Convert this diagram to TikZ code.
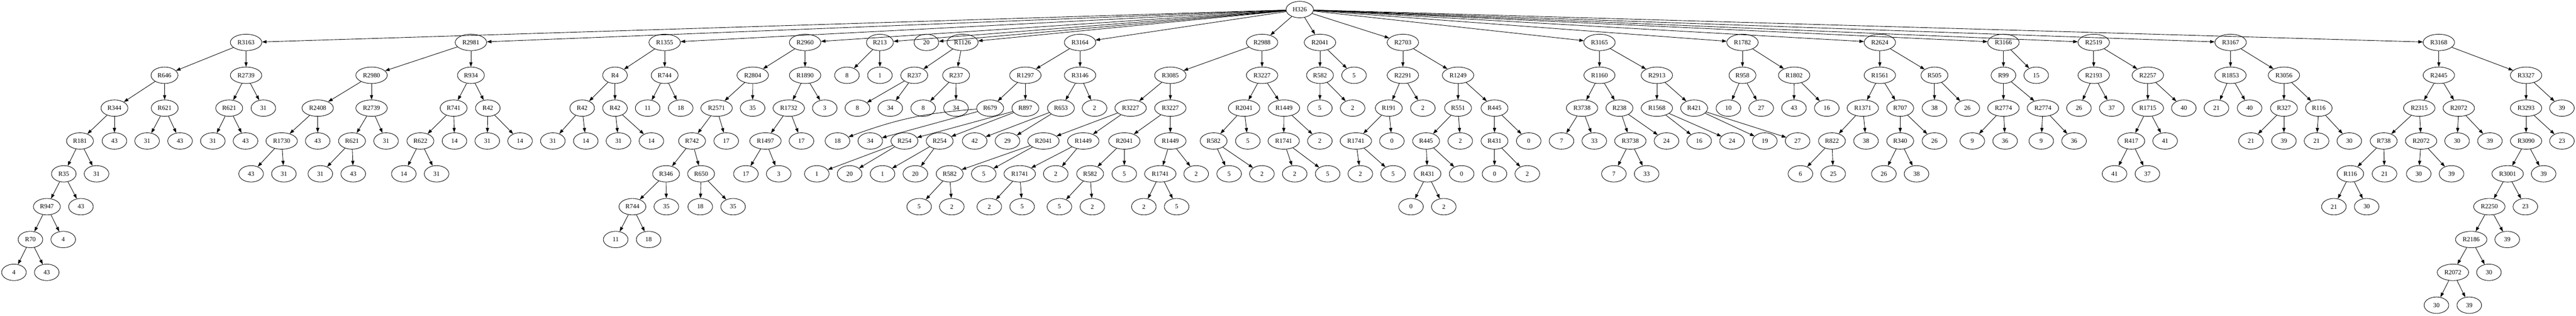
\documentclass[tikz,border=0pt]{standalone}
\usepackage{fontspec}
\setmainfont{Liberation Serif}
\usetikzlibrary{shapes.geometric,arrows.meta}
\newcommand\TN[5]{\node[nd] (#1) at (#3,#4) {#5}; \draw[ar] (#2) -- (#1);}
\begin{document}
\begin{tikzpicture}[x=0.75pt,y=-72pt,
  nd/.style={ellipse,draw,line width=1pt,minimum width=54pt,minimum height=36pt,
    inner xsep=5.7pt,inner ysep=2pt,font=\fontsize{14}{16}\selectfont},
  ar/.style={line width=1pt,-{Triangle[length=10pt,width=7pt]}}]
\useasboundingbox (0,-0.291667) rectangle (7533,9.322917);
\node[nd] (r) at (3800.8,0) {H326};
% level 1
\TN{a}{r}{719.6}{1}{R3163}
\TN{b}{r}{1377.1}{1}{R2981}
\TN{c}{r}{1943.7}{1}{R1355}
\TN{d}{r}{2354.3}{1}{R2960}
\TN{e}{r}{2573.1}{1}{R213}
\TN{f}{r}{2709}{1}{20}
\TN{g}{r}{2814.7}{1}{R1126}
\TN{h}{r}{3158.4}{1}{R3164}
\TN{i}{r}{3690.6}{1}{R2988}
\TN{j}{r}{3860}{1}{R2041}
\TN{k}{r}{4102.4}{1}{R2703}
\TN{l}{r}{4677.3}{1}{R3165}
\TN{m}{r}{5095.5}{1}{R1782}
\TN{n}{r}{5497.1}{1}{R2624}
\TN{o}{r}{5858.6}{1}{R3166}
\TN{p}{r}{6122.6}{1}{R2519}
\TN{q}{r}{6522.9}{1}{R3167}
\TN{s}{r}{7131.8}{1}{R3168}
% A
\TN{a1}{a}{481}{2}{R646}
\TN{a11}{a1}{334.7}{3}{R344}
\TN{a111}{a11}{233.9}{4}{R181}
\TN{a1111}{a111}{186.5}{5}{R35}
\TN{a11111}{a1111}{137.1}{6}{R947}
\TN{a111111}{a11111}{89}{7}{R70}
\TN{a1111111}{a111111}{40.8}{8}{4}
\TN{a1111112}{a111111}{136.7}{8}{43}
\TN{a111112}{a11111}{184.9}{7}{4}
\TN{a11112}{a1111}{236.7}{6}{43}
\TN{a1112}{a111}{282.4}{5}{31}
\TN{a112}{a11}{334.7}{4}{43}
\TN{a12}{a1}{481.6}{3}{R621}
\TN{a121}{a12}{430.2}{4}{31}
\TN{a122}{a12}{526.5}{4}{43}
\TN{a2}{a}{719.6}{2}{R2739}
\TN{a21}{a2}{670.2}{3}{R621}
\TN{a211}{a21}{622.4}{4}{31}
\TN{a212}{a21}{718}{4}{43}
\TN{a22}{a2}{770.2}{3}{31}
% B
\TN{b1}{b}{1086.5}{2}{R2980}
\TN{b11}{b1}{929}{3}{R2408}
\TN{b111}{b11}{823.7}{4}{R1730}
\TN{b1111}{b111}{734.3}{5}{43}
\TN{b1112}{b111}{830.2}{5}{31}
\TN{b112}{b11}{929}{4}{43}
\TN{b12}{b1}{1086.5}{3}{R2739}
\TN{b121}{b12}{1029.4}{4}{R621}
\TN{b1211}{b121}{936.7}{5}{31}
\TN{b1212}{b121}{1033}{5}{43}
\TN{b122}{b12}{1129}{4}{31}
\TN{b2}{b}{1377.1}{2}{R934}
\TN{b21}{b2}{1326.5}{3}{R741}
\TN{b211}{b21}{1229.4}{4}{R622}
\TN{b2111}{b211}{1180.8}{5}{14}
\TN{b2112}{b211}{1276.7}{5}{31}
\TN{b212}{b21}{1329}{4}{14}
\TN{b22}{b2}{1426.5}{3}{R42}
\TN{b221}{b22}{1424.9}{4}{31}
\TN{b222}{b22}{1520.8}{4}{14}
% C
\TN{c1}{c}{1798.4}{2}{R4}
\TN{c11}{c1}{1702.4}{3}{R42}
\TN{c111}{c11}{1616.7}{4}{31}
\TN{c112}{c11}{1713}{4}{14}
\TN{c12}{c1}{1798.4}{3}{R42}
\TN{c121}{c12}{1808.6}{4}{31}
\TN{c122}{c12}{1904.9}{4}{14}
\TN{c2}{c}{1943.7}{2}{R744}
\TN{c21}{c2}{1893.9}{3}{11}
\TN{c22}{c2}{1990.6}{3}{18}
% D
\TN{d1}{d}{2201.2}{2}{R2804}
\TN{d11}{d1}{2095.5}{3}{R2571}
\TN{d111}{d11}{2023.7}{4}{R742}
\TN{d1111}{d111}{1947.8}{5}{R346}
\TN{d11111}{d1111}{1849.4}{6}{R744}
\TN{d111111}{d11111}{1800.4}{7}{11}
\TN{d111112}{d11111}{1896.7}{7}{18}
\TN{d11112}{d1111}{1948.6}{6}{35}
\TN{d1112}{d111}{2050.2}{5}{R650}
\TN{d11121}{d1112}{2047.8}{6}{18}
\TN{d11122}{d1112}{2143.7}{6}{35}
\TN{d112}{d11}{2123.7}{4}{17}
\TN{d12}{d1}{2200.8}{3}{35}
\TN{d2}{d}{2354.3}{2}{R1890}
\TN{d21}{d2}{2306.5}{3}{R1732}
\TN{d211}{d21}{2238.4}{4}{R1497}
\TN{d2111}{d211}{2181.2}{5}{17}
\TN{d2112}{d211}{2277.1}{5}{3}
\TN{d212}{d21}{2343.7}{4}{17}
\TN{d22}{d2}{2411.8}{3}{3}
% E, G
\TN{e1}{e}{2476.7}{2}{8}
\TN{e2}{e}{2573.1}{2}{1}
\TN{g1}{g}{2673.5}{2}{R237}
\TN{g11}{g1}{2507.3}{3}{8}
\TN{g12}{g1}{2603.3}{3}{34}
\TN{g2}{g}{2795.9}{2}{R237}
\TN{g21}{g2}{2699.6}{3}{8}
\TN{g22}{g2}{2795.5}{3}{34}
% H
\TN{h1}{h}{2998.4}{2}{R1297}
\TN{h11}{h1}{2895.5}{3}{R679}
\node[nd] (h111) at (2449,4) {18};
\draw[ar] (h11) to[bend right=8] (h111);
\TN{h112}{h11}{2544.9}{4}{34}
\TN{h12}{h1}{2998.4}{3}{R897}
\TN{h121}{h12}{2644.9}{4}{R254}
\TN{h1211}{h121}{2388.6}{5}{1}
\TN{h1212}{h121}{2484.5}{5}{20}
\TN{h122}{h12}{2747.8}{4}{R254}
\TN{h1221}{h122}{2580.8}{5}{1}
\TN{h1222}{h122}{2676.7}{5}{20}
\TN{h2}{h}{3158.4}{2}{R3146}
\TN{h21}{h2}{3102.4}{3}{R653}
\TN{h211}{h21}{2850.2}{4}{42}
\TN{h212}{h21}{2946.1}{4}{29}
\TN{h22}{h2}{3200.8}{3}{2}
% I
\TN{i1}{i}{3422.4}{2}{R3085}
\TN{i11}{i1}{3306.1}{3}{R3227}
\TN{i111}{i11}{3051.4}{4}{R2041}
\TN{i1111}{i111}{2777.1}{5}{R582}
\TN{i11111}{i1111}{2687.8}{6}{5}
\TN{i11112}{i1111}{2783.3}{6}{2}
\TN{i1112}{i111}{2876.7}{5}{5}
\TN{i112}{i11}{3167.8}{4}{R1449}
\TN{i1121}{i112}{2982}{5}{R1741}
\TN{i11211}{i1121}{2893}{6}{2}
\TN{i11212}{i1121}{2989}{6}{5}
\TN{i1122}{i112}{3087.3}{5}{2}
\TN{i12}{i1}{3422.4}{3}{R3227}
\TN{i121}{i12}{3287.8}{4}{R2041}
\TN{i1211}{i121}{3187.8}{5}{R582}
\TN{i12111}{i1211}{3098}{6}{5}
\TN{i12112}{i1211}{3194.3}{6}{2}
\TN{i1212}{i121}{3287.8}{5}{5}
\TN{i122}{i12}{3422.4}{4}{R1449}
\TN{i1221}{i122}{3393}{5}{R1741}
\TN{i12211}{i1221}{3344.9}{6}{2}
\TN{i12212}{i1221}{3440.8}{6}{5}
\TN{i1222}{i122}{3498}{5}{2}
\TN{i2}{i}{3690.6}{2}{R3227}
\TN{i21}{i2}{3638}{3}{R2041}
\TN{i211}{i21}{3549}{4}{R582}
\TN{i2111}{i211}{3594.3}{5}{5}
\TN{i2112}{i211}{3690.2}{5}{2}
\TN{i212}{i21}{3649}{4}{5}
\TN{i22}{i2}{3754.7}{3}{R1449}
\TN{i221}{i22}{3753.9}{4}{R1741}
\TN{i2211}{i221}{3786.1}{5}{2}
\TN{i2212}{i221}{3882.4}{5}{5}
\TN{i222}{i22}{3859.6}{4}{2}
% J
\TN{j1}{j}{3860}{2}{R582}
\TN{j11}{j1}{3859.6}{3}{5}
\TN{j12}{j1}{3955.5}{3}{2}
\TN{j2}{j}{3959.6}{2}{5}
% K
\TN{k1}{k}{4102.4}{2}{R2291}
\TN{k11}{k1}{4061.2}{3}{R191}
\TN{k111}{k11}{3964.9}{4}{R1741}
\TN{k1111}{k111}{3978}{5}{2}
\TN{k1112}{k111}{4073.9}{5}{5}
\TN{k112}{k11}{4070.2}{4}{0}
\TN{k12}{k1}{4160.8}{3}{2}
\TN{k2}{k}{4263.7}{2}{R1249}
\TN{k21}{k2}{4263.7}{3}{R551}
\TN{k211}{k21}{4170.2}{4}{R445}
\TN{k2111}{k211}{4174.3}{5}{R431}
\TN{k21111}{k2111}{4126.1}{6}{0}
\TN{k21112}{k2111}{4222}{6}{2}
\TN{k2112}{k211}{4274.3}{5}{0}
\TN{k212}{k21}{4270.2}{4}{2}
\TN{k22}{k2}{4370.4}{3}{R445}
\TN{k221}{k22}{4370.4}{4}{R431}
\TN{k2211}{k221}{4370.4}{5}{0}
\TN{k2212}{k221}{4466.3}{5}{2}
\TN{k222}{k22}{4470.4}{4}{0}
% L
\TN{l1}{l}{4677.3}{2}{R1160}
\TN{l11}{l1}{4626.3}{3}{R3738}
\TN{l111}{l11}{4566.3}{4}{7}
\TN{l112}{l11}{4662.2}{4}{33}
\TN{l12}{l1}{4735.7}{3}{R238}
\TN{l121}{l12}{4767.6}{4}{R3738}
\TN{l1211}{l121}{4719.4}{5}{7}
\TN{l1212}{l121}{4815.3}{5}{33}
\TN{l122}{l12}{4873.3}{4}{24}
\TN{l2}{l}{4845.1}{2}{R2913}
\TN{l21}{l2}{4845.1}{3}{R1568}
\TN{l211}{l21}{4968.8}{4}{16}
\TN{l212}{l21}{5064.9}{4}{24}
\TN{l22}{l2}{4954.1}{3}{R421}
\TN{l221}{l22}{5160.8}{4}{19}
\TN{l222}{l22}{5256.7}{4}{27}
% M
\TN{m1}{m}{5095.5}{2}{R958}
\TN{m11}{m1}{5054.3}{3}{10}
\TN{m12}{m1}{5150.2}{3}{27}
\TN{m2}{m}{5246.5}{2}{R1802}
\TN{m21}{m2}{5246.1}{3}{43}
\TN{m22}{m2}{5342}{3}{16}
% N
\TN{n1}{n}{5497.1}{2}{R1561}
\TN{n11}{n1}{5447.3}{3}{R1371}
\TN{n111}{n11}{5357.1}{4}{R822}
\TN{n1111}{n111}{5264.9}{5}{6}
\TN{n1112}{n111}{5360.8}{5}{25}
\TN{n112}{n11}{5456.7}{4}{38}
\TN{n12}{n1}{5556.7}{3}{R707}
\TN{n121}{n12}{5556.7}{4}{R340}
\TN{n1211}{n121}{5509}{5}{26}
\TN{n1212}{n121}{5604.5}{5}{38}
\TN{n122}{n12}{5656.9}{4}{26}
\TN{n2}{n}{5656.9}{2}{R505}
\TN{n21}{n2}{5656.9}{3}{38}
\TN{n22}{n2}{5752.9}{3}{26}
% O
\TN{o1}{o}{5858.6}{2}{R99}
\TN{o11}{o1}{5858.6}{3}{R2774}
\TN{o111}{o11}{5767.6}{4}{9}
\TN{o112}{o11}{5863.5}{4}{36}
\TN{o12}{o1}{5974.1}{3}{R2774}
\TN{o121}{o12}{5969.2}{4}{9}
\TN{o122}{o12}{6065.1}{4}{36}
\TN{o2}{o}{5954.5}{2}{15}
% P
\TN{p1}{p}{6122.6}{2}{R2193}
\TN{p11}{p1}{6079.4}{3}{26}
\TN{p12}{p1}{6175.3}{3}{37}
\TN{p2}{p}{6280.8}{2}{R2257}
\TN{p21}{p2}{6280.8}{3}{R1715}
\TN{p211}{p21}{6232.4}{4}{R417}
\TN{p2111}{p211}{6183.5}{5}{41}
\TN{p2112}{p211}{6279.6}{5}{37}
\TN{p212}{p21}{6331.4}{4}{41}
\TN{p22}{p2}{6386.1}{3}{40}
% Q
\TN{q1}{q}{6522.4}{2}{R1853}
\TN{q11}{q1}{6481.6}{3}{21}
\TN{q12}{q1}{6578.4}{3}{40}
\TN{q2}{q}{6678.8}{2}{R3056}
\TN{q21}{q2}{6678.8}{3}{R327}
\TN{q211}{q21}{6582.4}{4}{21}
\TN{q212}{q21}{6678.8}{4}{39}
\TN{q22}{q2}{6780.8}{3}{R116}
\TN{q221}{q22}{6774.3}{4}{21}
\TN{q222}{q22}{6870}{4}{30}
% S
\TN{s1}{s}{7131.8}{2}{R2445}
\TN{s11}{s1}{7074.6}{3}{R2315}
\TN{s111}{s11}{6970.6}{4}{R738}
\TN{s1111}{s111}{6873}{5}{R116}
\TN{s11111}{s1111}{6824.9}{6}{21}
\TN{s11112}{s1111}{6920.8}{6}{30}
\TN{s1112}{s111}{6973}{5}{21}
\TN{s112}{s11}{7080}{4}{R2072}
\TN{s1121}{s112}{7073}{5}{30}
\TN{s1122}{s112}{7168.9}{5}{39}
\TN{s12}{s1}{7190.1}{3}{R2072}
\TN{s121}{s12}{7185.2}{4}{30}
\TN{s122}{s12}{7281.2}{4}{39}
\TN{s2}{s}{7386.9}{2}{R3327}
\TN{s21}{s2}{7386.9}{3}{R3293}
\TN{s211}{s21}{7386.9}{4}{R3090}
\TN{s2111}{s211}{7333}{5}{R3001}
\TN{s21111}{s2111}{7279.5}{6}{R2250}
\TN{s211111}{s21111}{7226.5}{7}{R2186}
\TN{s2111111}{s211111}{7173}{8}{R2072}
\TN{s21111111}{s2111111}{7124.8}{9}{30}
\TN{s21111112}{s2111111}{7220.8}{9}{39}
\TN{s2111112}{s211111}{7278.3}{8}{30}
\TN{s211112}{s21111}{7331.8}{7}{39}
\TN{s21112}{s2111}{7384.8}{6}{23}
\TN{s2112}{s211}{7438.3}{5}{39}
\TN{s212}{s21}{7491.8}{4}{23}
\TN{s22}{s2}{7491.8}{3}{39}
\end{tikzpicture}
\end{document}
